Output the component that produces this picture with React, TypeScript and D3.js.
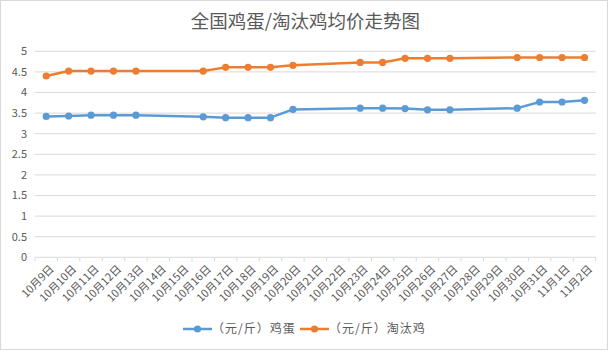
import React from "react";
import * as d3 from "d3";

const categories = ["10月9日","10月10日","10月11日","10月12日","10月13日","10月14日","10月15日","10月16日","10月17日","10月18日","10月19日","10月20日","10月21日","10月22日","10月23日","10月24日","10月25日","10月26日","10月27日","10月28日","10月29日","10月30日","10月31日","11月1日","11月2日"];
const dataDates = ["10月9日","10月10日","10月11日","10月12日","10月13日","10月16日","10月17日","10月18日","10月19日","10月20日","10月23日","10月24日","10月25日","10月26日","10月27日","10月30日","10月31日","11月1日","11月2日"];
const eggValues = [3.42,3.43,3.45,3.45,3.45,3.41,3.39,3.39,3.39,3.59,3.62,3.62,3.61,3.58,3.58,3.62,3.77,3.77,3.81];
const henValues = [4.4,4.52,4.52,4.52,4.52,4.52,4.61,4.61,4.61,4.66,4.73,4.73,4.83,4.83,4.83,4.85,4.85,4.85,4.85];
const yTicks = [0,0.5,1,1.5,2,2.5,3,3.5,4,4.5,5];
const seriesNames = ["（元/斤）鸡蛋","（元/斤）淘汰鸡"];
const title = "全国鸡蛋/淘汰鸡均价走势图";

const W = 612, H = 353;
const left = 35, right = 595.7, top = 51.3, bottom = 257.3;
const font = "'Noto Sans CJK SC', 'Microsoft YaHei', sans-serif";
const textColor = "#595959";
const colors = ["#5B9BD5", "#ED7D31"];

export default function App() {
  const x = d3.scaleBand<string>().domain(categories).range([left, right]);
  const y = d3.scaleLinear().domain([0, 5]).range([bottom, top]);
  const cx = (d: string) => (x(d) as number) + x.bandwidth() / 2;
  const series = [eggValues, henValues];
  const line = d3.line<[string, number]>().x(d => cx(d[0])).y(d => y(d[1]));

  return (
    <svg width={W} height={H} style={{ position: "absolute", left: 0, top: 0 }} fontFamily={font}>
      <rect x={0} y={0} width={W} height={H} fill="#fff" />
      <rect x={0.5} y={0.5} width={607} height={349} fill="none" stroke="#D9D9D9" />
      <text x={305.5} y={28} textAnchor="middle" fontSize={18.5} fill={textColor}>{title}</text>
      {yTicks.map(t => (
        <g key={t}>
          {t > 0 && <line x1={left} x2={right} y1={y(t)} y2={y(t)} stroke="#D9D9D9" strokeWidth={1} />}
          <text x={27} y={y(t)} dy="0.35em" textAnchor="end" fontSize={11} fill={textColor}>{t}</text>
        </g>
      ))}
      <line x1={left} x2={right} y1={bottom} y2={bottom} stroke="#D9D9D9" strokeWidth={1} />
      {categories.map((c, i) => (
        <line key={"t" + c} x1={x(c) as number} x2={x(c) as number} y1={bottom} y2={bottom + 4} stroke="#D9D9D9" />
      ))}
      <line x1={right} x2={right} y1={bottom} y2={bottom + 4} stroke="#D9D9D9" />
      {categories.map(c => (
        <text key={"l" + c} transform={`translate(${cx(c) + 3},${bottom + 7}) rotate(-45)`} textAnchor="end" dy="0.7em" fontSize={11} fill={textColor}>{c}</text>
      ))}
      {series.map((vals, si) => {
        const pts: [string, number][] = dataDates.map((d, i) => [d, vals[i]]);
        return (
          <g key={si}>
            <path d={line(pts) as string} fill="none" stroke={colors[si]} strokeWidth={2.5} strokeLinejoin="round" strokeLinecap="round" />
            {pts.map(p => (
              <circle key={p[0]} cx={cx(p[0])} cy={y(p[1])} r={3.6} fill={colors[si]} />
            ))}
          </g>
        );
      })}
      {[0, 1].map(i => {
        const lx = i === 0 ? 183 : 300;
        return (
          <g key={"lg" + i}>
            <line x1={lx} x2={lx + 29} y1={329} y2={329} stroke={colors[i]} strokeWidth={2.5} />
            <circle cx={lx + 14.5} cy={329} r={3.6} fill={colors[i]} />
            <text x={lx + 29} y={329} dy="0.35em" fontSize={12} letterSpacing={1} fill={textColor}>{seriesNames[i]}</text>
          </g>
        );
      })}
    </svg>
  );
}
